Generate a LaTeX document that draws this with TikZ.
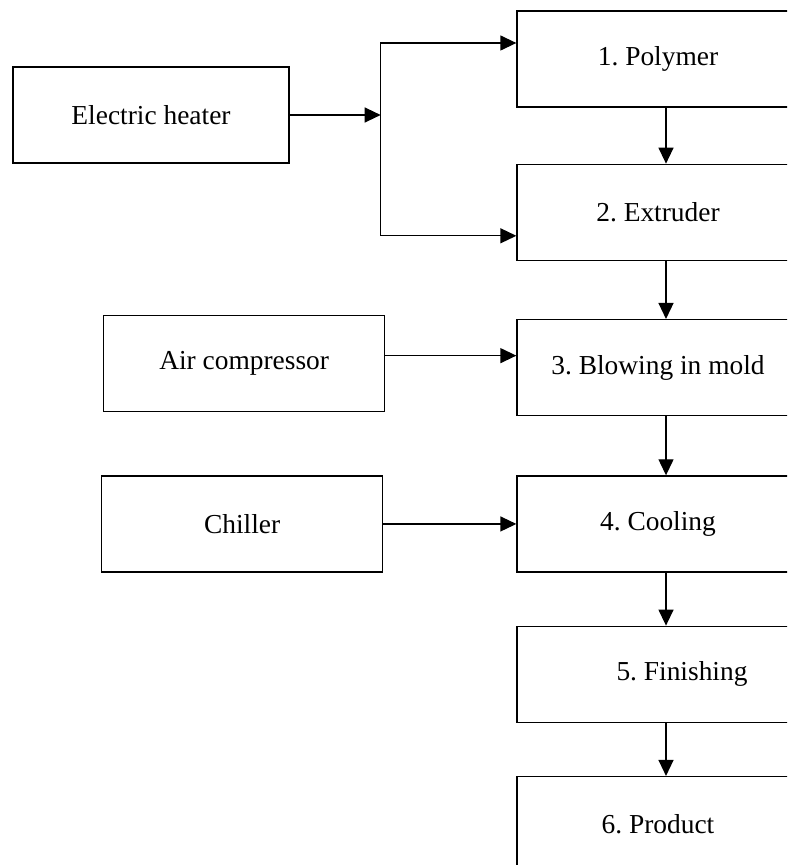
\documentclass[tikz,border=0pt]{standalone}
\usepackage{fontspec}
\setmainfont{Liberation Serif}
\frenchspacing
\usetikzlibrary{positioning,arrows.meta}
\tikzset{
  stage/.style={draw, line width=0.75pt, minimum width=5.64cm, minimum height=1.92cm,
    inner sep=0pt, font=\fontsize{15.6}{18}\selectfont},
  utility/.style={stage, minimum width=5.62cm},
  flow/.style={line width=0.75pt, -{Triangle[length=0.32cm,width=0.3cm]}}
}
\begin{document}
\begin{tikzpicture}[node distance=1.12cm]
\useasboundingbox (0,0) rectangle (15.74,-17.30);
\clip (0,0) rectangle (15.74,-17.30);
\node(polymer)  [stage] at (13.16,-1.18) {1. Polymer};
\node(extruder) [stage, below=1.12cm of polymer] {2. Extruder};
\node(blow)     [stage, below=1.16cm of extruder] {3. Blowing in mold};
\node(cool)     [stage, below=1.18cm of blow] {4. Cooling};
\node(finish)   [stage, below=1.06cm of cool] {\hspace*{0.96cm}5. Finishing};
\node(product)  [stage, below=1.06cm of finish] {6. Product};
\node(heater)   [utility, minimum width=5.52cm] at (3.02,-2.30) {Electric heater};
\node(air)      [utility, left=2.62cm of blow, yshift=0.08cm] {Air compressor};
\node(chiller)  [utility, left=2.66cm of cool] {Chiller};
\coordinate[right=1.82cm of heater] (split);
\draw[flow] (heater) -- (split);
\draw[flow] (split) |- ([yshift=0.32cm]polymer.west);
\draw[flow] (split) |- ([yshift=-0.47cm]extruder.west);
\draw[flow] ([yshift=0.16cm]air.east) -- ([yshift=0.16cm]air.east -| blow.west);
\draw[flow] (chiller) -- (cool);
\draw[flow] ([xshift=0.16cm]polymer.south) -- ([xshift=0.16cm]extruder.north);
\draw[flow] ([xshift=0.16cm]extruder.south) -- ([xshift=0.16cm]blow.north);
\draw[flow] ([xshift=0.16cm]blow.south) -- ([xshift=0.16cm]cool.north);
\draw[flow] ([xshift=0.16cm]cool.south) -- ([xshift=0.16cm]finish.north);
\draw[flow] ([xshift=0.16cm]finish.south) -- ([xshift=0.16cm]product.north);
\end{tikzpicture}
\end{document}
